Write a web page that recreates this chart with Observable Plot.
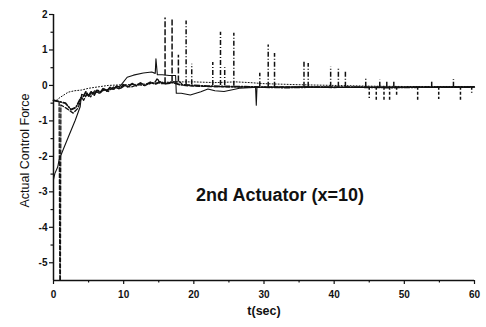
<!DOCTYPE html>
<html><head><meta charset="utf-8">
<script src="https://cdn.jsdelivr.net/npm/d3@7"></script>
<script src="https://cdn.jsdelivr.net/npm/@observablehq/plot@0.6"></script>
<style>
html,body{margin:0;padding:0;background:#fff;}
</style></head><body><div id="chart"></div>
<script>
// Axis ticks
const xTicks = [0, 10, 20, 30, 40, 50, 60];
const xMinor = [5, 15, 25, 35, 45, 55];
const yTicks = [-5, -4, -3, -2, -1, 0, 1, 2];
const yMinor = [-4.5, -3.5, -2.5, -1.5, -0.5, 0.5, 1.5];

// Solid series
const solidT = [0, 0.2, 0.6, 0.8, 1.4, 2.1, 3.1, 3.8, 4.0, 4.6, 5.2, 6.0, 6.7, 7.4, 8.1, 8.8, 9.5, 10.5, 11.4, 12.8, 14.0, 14.5, 14.6, 14.8, 15.5, 16.5, 17.4, 17.5, 18.2, 19.5, 21.0, 22.0, 23.0, 24.3, 25.5, 26.5, 28.5, 28.8, 28.9, 29.0, 30, 35, 40, 45, 50, 55, 60];
const solidY = [-2.65, -2.48, -2.3, -2.1, -1.8, -1.46, -0.98, -0.6, -0.25, -0.3, -0.25, -0.2, -0.17, -0.13, -0.1, -0.06, -0.02, 0.23, 0.29, 0.35, 0.38, 0.34, 0.75, 0.3, 0.3, 0.28, 0.28, -0.22, -0.22, -0.27, -0.18, -0.1, -0.15, -0.17, -0.12, -0.08, -0.06, -0.05, -0.56, -0.05, -0.05, -0.04, -0.05, -0.06, -0.05, -0.05, -0.04];

// Long-dash series
const dashT = [0, 0.8, 0.9, 0.98, 1.05, 1.8, 2.8, 3.5, 4.0, 4.3, 4.8, 5.3, 5.9, 6.5, 7.2, 7.8, 8.6, 9.4, 10.2, 11.0, 12.0, 13.0, 13.8, 14.5, 14.8, 15.2, 16.0, 17.0, 18.0, 18.5, 20, 22, 25, 28, 30, 32, 35, 38, 40, 42, 45, 50, 55, 60];
const dashY = [-0.42, -0.45, -5.5, -5.5, -0.55, -0.64, -0.78, -0.64, -0.33, -0.42, -0.22, -0.32, -0.14, -0.22, -0.1, -0.17, -0.04, -0.1, 0.0, -0.05, 0.02, 0.0, 0.06, 0.1, 0.2, 0.05, 0.05, 0.1, 0.1, 0.0, -0.02, -0.03, -0.04, -0.05, -0.05, -0.04, -0.05, -0.05, -0.06, -0.05, -0.05, -0.05, -0.05, -0.05];

// Dash-dot series
const dashDotT = [0, 0.7, 1.7, 2.5, 3.2, 3.9, 4.3, 4.6, 5.0, 5.4, 5.8, 6.2, 6.7, 7.1, 7.6, 8.1, 8.5, 9.0, 9.5, 10.0, 10.6, 11.2, 11.8, 12.4, 13.0, 13.8, 14.5, 15.2, 16, 17, 18, 20, 22, 25, 28, 30, 33, 36, 40, 44, 48, 52, 56, 60];
const dashDotY = [-0.42, -0.45, -0.5, -0.68, -0.62, -0.35, -0.3, -0.18, -0.3, -0.17, -0.27, -0.12, -0.2, -0.08, -0.16, -0.05, -0.12, -0.02, -0.08, 0.02, -0.04, 0.05, -0.01, 0.07, 0.0, 0.09, 0.04, 0.1, 0.05, 0.08, 0.02, 0.0, -0.02, -0.03, -0.04, -0.05, -0.06, -0.05, -0.05, -0.05, -0.06, -0.05, -0.05, -0.05];

// Dotted series
const dotT = [0, 0.4, 1.0, 2.1, 3.0, 4.0, 5.0, 6.4, 7.8, 10, 12, 14, 15, 17, 20, 23, 26, 28, 30, 35, 40, 45, 50, 55, 60];
const dotY = [-0.42, -0.42, -0.33, -0.19, -0.15, -0.13, -0.08, -0.04, 0, 0.02, 0.03, 0.05, 0.08, 0.1, 0.1, 0.08, 0.1, 0.08, 0.05, 0.02, 0, -0.02, -0.03, -0.03, -0.03];

// Spikes (long dash)
const dashSpikeT = [15.9, 16.9, 17.8];
const dashSpikeBase = [0.05, 0.1, 0.1];
const dashSpikeTop = [1.9, 1.9, 0.85];

// Spikes (dash-dot)
const ddSpikeT = [18.9, 19.7, 22.7, 23.8, 24.4, 25.7, 29.4, 30.6, 31.5, 35.7, 36.3, 39.5, 40.6, 41.6, 44.5, 46.5, 47.5, 48.5, 53.9, 57.0];
const ddSpikeBase = [0.02, 0.02, 0.0, 0.0, 0.0, -0.02, -0.04, -0.05, -0.05, -0.05, -0.05, -0.05, -0.05, -0.05, -0.05, -0.05, -0.05, -0.05, -0.05, -0.05];
const ddSpikeTop = [1.82, 0.6, 0.65, 1.5, 0.5, 1.47, 0.34, 1.14, 0.9, 0.68, 0.62, 0.52, 0.48, 0.38, 0.18, 0.15, 0.12, 0.1, 0.14, 0.17];

// Negative spikes (short dash)
const negSpikeT = [45.0, 46.0, 47.1, 47.9, 48.9, 51.9, 54.9, 58.0, 59.6];
const negSpikeBase = [-0.05, -0.05, -0.05, -0.05, -0.05, -0.05, -0.05, -0.05, -0.05];
const negSpikeBottom = [-0.37, -0.42, -0.42, -0.45, -0.33, -0.47, -0.4, -0.47, -0.22];

const rows = (t, y) => t.map((d, i) => ({t: d, y: y[i]}));
const spikes = (t, a, b) => t.map((d, i) => ({t: d, y1: a[i], y2: b[i]}));

const ink = "#111";
const chart = Plot.plot({
  width: 486, height: 327,
  marginLeft: 53, marginRight: 12, marginTop: 14, marginBottom: 47,
  x: {domain: [0, 60]},
  y: {domain: [-5.5, 2]},
  style: {fontFamily: "Liberation Sans, Arial, sans-serif", background: "#fff", color: ink},
  marks: [
    Plot.line(rows(dotT, dotY), {x: "t", y: "y", stroke: ink, strokeWidth: 1, strokeDasharray: "1,2"}),
    Plot.line(rows(dashDotT, dashDotY), {x: "t", y: "y", stroke: ink, strokeWidth: 1.8, strokeDasharray: "5,2,1,2"}),
    Plot.line(rows(dashT, dashY), {x: "t", y: "y", stroke: ink, strokeWidth: 1.3, strokeDasharray: "4,2"}),
    Plot.line(rows(solidT, solidY), {x: "t", y: "y", stroke: ink, strokeWidth: 1.1}),
    Plot.ruleX(spikes(dashSpikeT, dashSpikeBase, dashSpikeTop), {x: "t", y1: "y1", y2: "y2", stroke: ink, strokeWidth: 1.5, strokeDasharray: "6,2"}),
    Plot.ruleX(spikes(ddSpikeT, ddSpikeBase, ddSpikeTop), {x: "t", y1: "y1", y2: "y2", stroke: ink, strokeWidth: 1.5, strokeDasharray: "5,2,1,2"}),
    Plot.ruleX(spikes(negSpikeT, negSpikeBase, negSpikeBottom), {x: "t", y1: "y1", y2: "y2", stroke: ink, strokeWidth: 1.5, strokeDasharray: "3,2"}),
    Plot.ruleX([0], {stroke: ink, strokeWidth: 1.5}),
    Plot.ruleY([-5.5], {stroke: ink, strokeWidth: 1.5}),
    Plot.axisX(xTicks, {tickSize: 4, tickPadding: 6, fontSize: 10, fontWeight: "bold", label: null, strokeWidth: 1.2, tickFormat: d => String(d)}),
    Plot.axisX(xMinor, {tickSize: 2.5, tickFormat: () => "", label: null, strokeWidth: 1.2}),
    Plot.axisY(yTicks, {tickSize: 4, tickPadding: 2, fontSize: 10, fontWeight: "bold", label: null, strokeWidth: 1.2, tickFormat: d => String(d)}),
    Plot.axisY(yMinor, {tickSize: 2.5, tickFormat: () => "", label: null, strokeWidth: 1.2}),
    Plot.text(["2nd Actuator (x=10)"], {frameAnchor: "middle", dx: 16, dy: 48, fontSize: 18, fontWeight: "bold", fill: ink}),
    Plot.text(["t(sec)"], {frameAnchor: "bottom", dy: 34, fontSize: 12.5, fontWeight: "bold", fill: ink}),
    Plot.text(["Actual Control Force"], {frameAnchor: "left", textAnchor: "middle", lineAnchor: "middle", rotate: -90, dx: -29, dy: 3, fontSize: 12.5, fill: ink})
  ]
});
document.getElementById("chart").appendChild(chart);
</script></body></html>
